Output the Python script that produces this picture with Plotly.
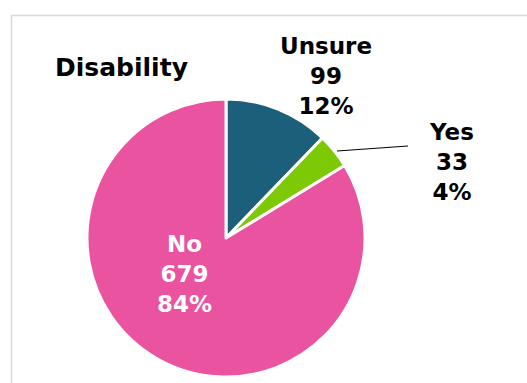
import plotly.graph_objects as go

categories = ["Unsure", "Yes", "No"]
counts = [99, 33, 679]
percents = ["12%", "4%", "84%"]
colors = ["#1B5F7A", "#7DC905", "#E9539F"]
title_text = "Disability"

W, H = 527, 383
FONT = "DejaVu Sans"

fig = go.Figure(go.Pie(
    labels=categories,
    values=counts,
    sort=False,
    direction="clockwise",
    rotation=0,
    marker=dict(colors=colors, line=dict(color="white", width=3)),
    textinfo="none",
    hoverinfo="label+value+percent",
    showlegend=False,
    domain=dict(x=[(226 - 139) / W, (226 + 139) / W], y=[1 - 377 / H, 1 - 99 / H]),
))

def label(i):
    return f"<b>{categories[i]}<br>{counts[i]}<br>{percents[i]}</b>"

label_pos = {0: (326, 76, "black"), 1: (451, 162, "black"), 2: (185, 274, "white")}
annotations = []
for i, (px, py, col) in label_pos.items():
    annotations.append(dict(
        x=px / W, y=1 - py / H, xref="paper", yref="paper",
        text=label(i), showarrow=False, xanchor="center", yanchor="middle",
        font=dict(family=FONT, size=23, color=col), align="center",
    ))
annotations.append(dict(
    x=121 / W, y=1 - 67 / H, xref="paper", yref="paper",
    text=f"<b>{title_text}</b>", showarrow=False, xanchor="center", yanchor="middle",
    font=dict(family=FONT, size=25, color="black"),
))

shapes = [
    dict(type="rect", xref="paper", yref="paper",
         x0=11.5 / W, x1=1.05, y0=-0.05, y1=1 - 15.5 / H,
         line=dict(color="#D9D9D9", width=1.5), fillcolor="rgba(0,0,0,0)", layer="below"),
    dict(type="line", xref="paper", yref="paper",
         x0=337 / W, y0=1 - 151 / H, x1=408 / W, y1=1 - 146 / H,
         line=dict(color="black", width=1)),
]

fig.update_layout(
    width=W, height=H,
    margin=dict(l=0, r=0, t=0, b=0),
    paper_bgcolor="white",
    plot_bgcolor="white",
    annotations=annotations,
    shapes=shapes,
)

fig.write_html(
    "out.html",
    config={"displayModeBar": False},
    post_script="document.body.style.margin='0';document.body.style.overflow='hidden';",
)
